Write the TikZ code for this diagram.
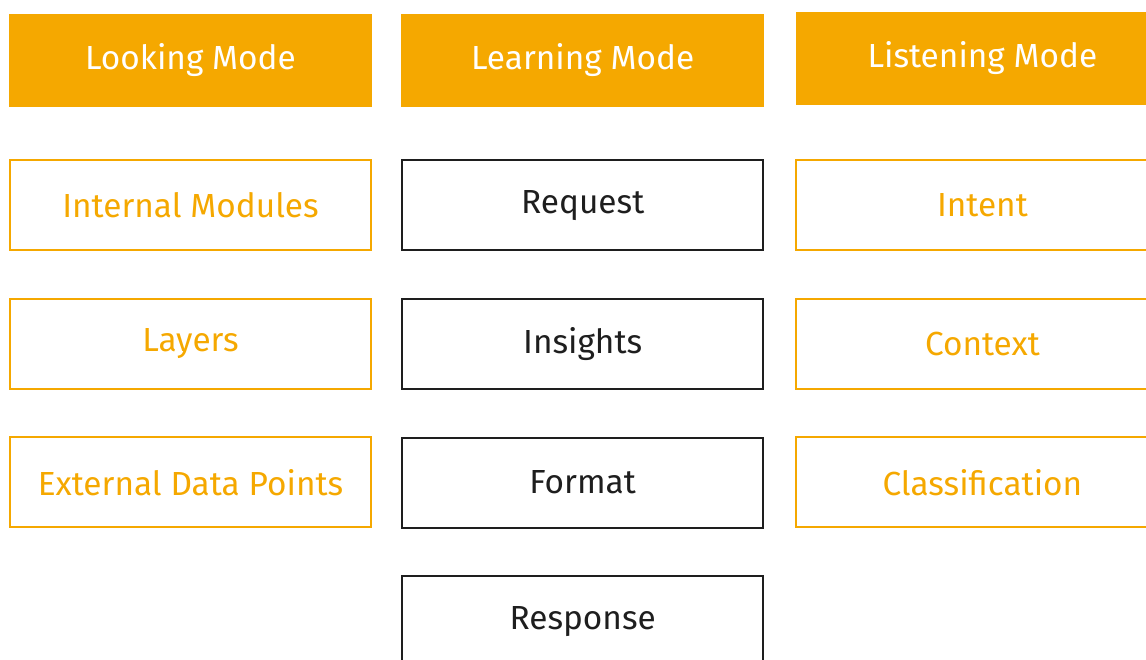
\documentclass[tikz,border=0pt]{standalone}
\usepackage{fontspec}
\setmainfont{Fira Sans}
\usepackage{tikz}
\usetikzlibrary{positioning}
\definecolor{modeorange}{HTML}{F5A800}
\definecolor{boxblack}{HTML}{1E1E1E}

\begin{document}
\begin{tikzpicture}[node distance=0.93cm and 0.57cm,
  every node/.style={font=\fontsize{19}{22}\selectfont}]
\tikzstyle{mode}=[fill=modeorange,text=white,minimum width=7.26cm,minimum height=1.86cm]
\tikzstyle{lookbox}=[draw=modeorange,line width=1.1pt,text=modeorange,minimum width=7.22cm,minimum height=1.8cm]
\tikzstyle{learnbox}=[draw=boxblack,line width=1.2pt,text=boxblack,minimum width=7.22cm,minimum height=1.8cm]
\tikzstyle{listenbox}=[lookbox,minimum width=7.44cm]
\useasboundingbox (0,0) rectangle (22.92,-13.2);
% the three modes
\node [mode] (looking) at (3.81,-1.21) {Looking Mode};
\node [mode,right=of looking] (learning) {Learning Mode};
\node [mode,right=0.63cm of learning,minimum width=7.44cm,yshift=0.04cm] (listening) {Listening Mode};
% looking column
\node [lookbox,below=1.04cm of looking] (modules) {Internal Modules};
\node [lookbox,below=of modules] (layers) {Layers};
\node [lookbox,below=of layers] (external) {External Data Points};
% learning column
\node [learnbox,below=1.04cm of learning] (request) {Request};
\node [learnbox,below=of request] (insights) {Insights};
\node [learnbox,below=of insights] (format) {Format};
\node [learnbox,below=of format] (response) {Response};
% listening column
\node [listenbox,below=1.08cm of listening] (intent) {Intent};
\node [listenbox,below=of intent] (context) {Context};
\node [listenbox,below=of context] (classification) {Classification};
\end{tikzpicture}
\end{document}
